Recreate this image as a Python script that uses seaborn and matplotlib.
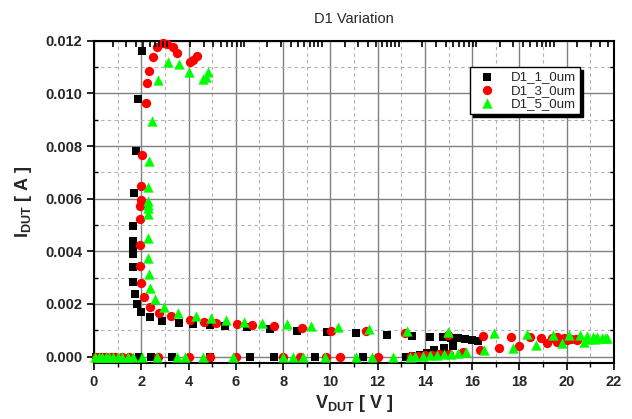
# %% Requirements and constants
import numpy as np
import seaborn as sns
import matplotlib
matplotlib.use('Agg')
import matplotlib.pyplot as plt
from matplotlib.ticker import MultipleLocator, NullFormatter, LogLocator

sns.set_style('white')
plt.rcParams['font.family'] = ['Liberation Sans', 'DejaVu Sans']
plt.rcParams['mathtext.fontset'] = 'custom'
plt.rcParams['mathtext.rm'] = 'Liberation Sans'
plt.rcParams['mathtext.bf'] = 'Liberation Sans:bold'

series_names = ['D1_1_0um', 'D1_3_0um', 'D1_5_0um']

# D1_1_0um
v1 = [0.1, 0.4, 1.9, 2.4, 3.3, 4.9, 6.6, 7.6, 9.35, 11.4, 13.2,
      13.5, 13.8, 14.1, 14.4, 14.8, 15.2,
      2.04, 1.85, 1.78, 1.69, 1.66, 1.66, 1.66, 1.65, 1.66, 1.66, 1.72, 1.80,
      1.99, 2.36, 2.86, 3.58, 4.17, 4.91, 5.54, 6.49, 7.44, 8.57, 9.84, 11.08,
      12.38, 13.44, 14.21, 14.75, 15.1, 15.4, 15.7, 16.0, 16.25]
i1 = [0, 0, 0, 0, 0, 0, 0, 0, 0, 0, 0,
      0.00003, 0.00008, 0.00014, 0.00025, 0.00032, 0.00042,
      0.01162, 0.00979, 0.00782, 0.00623, 0.00496, 0.0044, 0.00415, 0.0039,
      0.00342, 0.00284, 0.00238, 0.0020, 0.0017, 0.0015, 0.00137, 0.00128,
      0.00124, 0.00119, 0.00117, 0.00112, 0.00104, 0.00099, 0.00093, 0.00089,
      0.00082, 0.0008, 0.00076, 0.00074, 0.00071, 0.00069, 0.00066, 0.00062,
      0.00058]

# D1_3_0um
v3 = [0.1, 0.3, 0.5, 0.7, 0.9, 1.2, 1.5, 2.7, 4.0, 4.9, 6.0, 8.0, 8.7, 9.8,
      10.4, 12.0,
      13.4, 13.7, 14.0, 14.3, 14.6, 15.0,
      15.62, 16.33, 17.13, 17.98, 19.18, 19.57, 20.0, 20.4,
      2.02, 2.19, 2.25, 2.34, 2.48, 2.65, 2.93, 3.1, 3.33, 3.52, 4.06, 4.2, 4.35,
      1.99, 1.99, 1.95, 1.95, 1.95, 1.95, 2.0, 2.13, 2.37, 2.75, 3.24, 4.06,
      4.65, 5.16, 6.06, 6.7, 7.6, 8.79, 10.02, 11.5, 13.16, 14.99, 16.44,
      17.63, 18.44, 18.93, 19.36, 19.6, 19.9, 20.2, 20.45, 19.8]
i3 = [0, 0, 0, 0, 0, 0, 0, 0, 0, 0, 0, 0, 0, 0,
      0, 0,
      0.00002, 0.00003, 0.00005, 0.00007, 0.0001, 0.00012,
      0.00019, 0.00025, 0.00032, 0.00042, 0.00051, 0.00057, 0.00062, 0.00066,
      0.00766, 0.00962, 0.01038, 0.01085, 0.01139, 0.01177, 0.01192, 0.01187,
      0.01175, 0.01154, 0.01118, 0.01125, 0.0114,
      0.00648, 0.00595, 0.00572, 0.00523, 0.00424, 0.00346, 0.00281, 0.00228,
      0.0019, 0.00167, 0.00155, 0.00139, 0.00133, 0.00129, 0.00124, 0.00121,
      0.00117, 0.00108, 0.00099, 0.00099, 0.00089, 0.00082, 0.00079, 0.00076,
      0.00074, 0.00072, 0.0007, 0.00075, 0.00072, 0.00068, 0.00064, 0.00062]

# D1_5_0um
v5 = [0.05, 0.2, 0.35, 0.5, 0.65, 0.8, 1.0, 1.2, 1.45, 1.66, 2.02, 2.65, 3.5,
      3.85, 4.62, 5.89, 8.0, 8.43, 8.85, 9.77, 11.08, 11.75, 12.63, 13.37,
      13.6, 13.9, 14.2, 14.5, 14.8, 15.1, 15.4,
      15.76, 16.51, 17.74, 18.68, 19.78, 20.73,
      3.12, 3.6, 4.03, 4.62, 4.74, 4.84, 2.72, 2.44, 2.33, 2.3, 2.27, 2.27,
      2.27, 2.27, 2.27, 2.3, 2.33, 2.37, 2.58, 2.96, 3.54, 4.31, 4.94, 5.58,
      6.36, 7.09, 8.15, 9.18, 10.33, 11.63, 13.23, 14.96, 16.92, 18.33, 19.43,
      20.1, 20.56, 20.84, 21.1, 21.3, 21.5, 21.7, 20.9, 21.2, 21.6]
i5 = [0, 0, 0, 0, 0, 0, 0, 0, 0, 0, 0, 0, 0,
      0, 0, 0, 0, 0, 0, 0, 0, 0, 0, 0,
      0.00002, 0.00004, 0.00006, 0.00008, 0.0001, 0.00012, 0.00015,
      0.00019, 0.00025, 0.00034, 0.00044, 0.00051, 0.00057,
      0.01118, 0.0111, 0.0108, 0.01055, 0.01063, 0.0108, 0.01051, 0.00895,
      0.00744, 0.00643, 0.00592, 0.00575, 0.00563, 0.0054, 0.0045, 0.00374,
      0.00313, 0.00262, 0.00219, 0.00188, 0.00167, 0.00155, 0.00146, 0.00139,
      0.00133, 0.00129, 0.00123, 0.00118, 0.00112, 0.00105, 0.00098, 0.00093,
      0.00089, 0.00086, 0.00082, 0.00082, 0.00082, 0.00079, 0.00075, 0.00073,
      0.00072, 0.0007, 0.00066, 0.00068, 0.00069]

# %% Plot
fig = plt.figure(figsize=(6.32, 4.19), dpi=100)
ax = fig.add_axes([0.1487, 0.1337, 0.8228, 0.7692])

sns.scatterplot(x=v1, y=i1, marker='s', color='black', s=30, linewidth=0,
                label=series_names[0], ax=ax, zorder=3, clip_on=False)
sns.scatterplot(x=v3, y=i3, marker='o', color='#ff0000', s=45, linewidth=0,
                label=series_names[1], ax=ax, zorder=3, clip_on=False)
sns.scatterplot(x=v5, y=i5, marker='^', color='#00ff00', s=55, linewidth=0,
                label=series_names[2], ax=ax, zorder=3, clip_on=False)

ax.set_xlim(0, 22)
ax.set_ylim(-0.00024, 0.012)
ax.xaxis.set_major_locator(MultipleLocator(2))
ax.xaxis.set_minor_locator(MultipleLocator(1))
ax.yaxis.set_major_locator(MultipleLocator(0.002))
ax.yaxis.set_minor_locator(MultipleLocator(0.001))
ax.yaxis.set_major_formatter(plt.FormatStrFormatter('%.3f'))

ax.grid(which='major', color='#808080', linewidth=1.0, linestyle='-', zorder=0)
ax.grid(which='minor', color='#b0b0b0', linewidth=0.8, linestyle=(0, (3, 3)), zorder=0)
ax.set_axisbelow(True)

for sp in ax.spines.values():
    sp.set_color('black')
    sp.set_linewidth(1.5)

ax.tick_params(axis='both', which='both', direction='out', color='black',
               bottom=True, left=True, top=False, right=False)
ax.tick_params(axis='both', which='major', length=5, width=1.2, labelsize=10.5)
ax.tick_params(axis='both', which='minor', length=3, width=1.0)
ax.tick_params(axis='y', which='minor', right=True, direction='in')
for lab in ax.get_xticklabels() + ax.get_yticklabels():
    lab.set_fontweight('bold')

# top axis with log-spaced ticks, as in the original
top = ax.twiny()
top.set_xscale('log')
top.set_xlim(0.115, 6.0e5)
top.xaxis.set_major_locator(LogLocator(base=10))
top.xaxis.set_minor_locator(LogLocator(base=10, subs=np.arange(2, 10)))
top.xaxis.set_major_formatter(NullFormatter())
top.xaxis.set_minor_formatter(NullFormatter())
top.tick_params(axis='x', which='both', direction='in', length=4, width=1.2,
                color='black', top=True, bottom=False, labeltop=False)
for sp in top.spines.values():
    sp.set_visible(False)

ax.set_xlabel(r'$\mathbf{V}_{\mathbf{DUT}}$' + ' [ V ]', fontsize=13,
              fontweight='bold', labelpad=3)
ax.set_ylabel(r'$\mathbf{I}_{\mathbf{DUT}}$' + ' [ A ]', fontsize=13,
              fontweight='bold', labelpad=8)
ax.set_title('D1 Variation', fontsize=10.5, pad=13)

leg = ax.legend(loc='upper left', bbox_to_anchor=(0.723, 0.918),
                frameon=True, fancybox=False, edgecolor='black',
                shadow={'color': 'black', 'alpha': 1.0}, fontsize=9.5,
                handletextpad=0.8, labelspacing=0.08, borderpad=0.3,
                handlelength=2.0, borderaxespad=0)
leg.get_frame().set_linewidth(1.0)

fig.savefig('out.png', dpi=100)
